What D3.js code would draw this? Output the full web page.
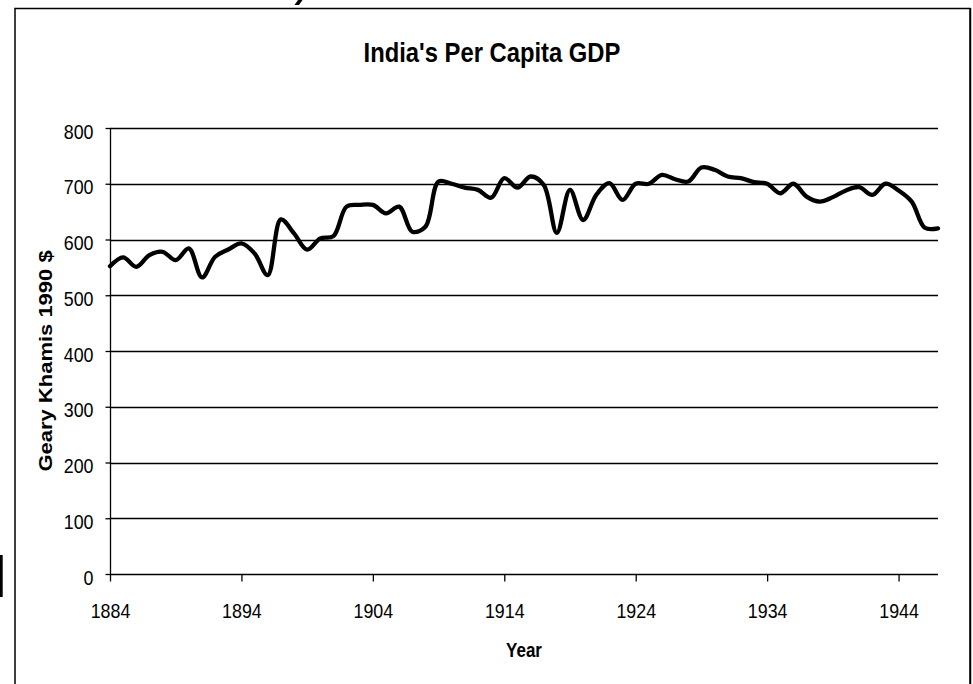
<!DOCTYPE html>
<html>
<head>
<meta charset="utf-8">
<script src="https://cdn.jsdelivr.net/npm/d3@7"></script>
<style>
  body { margin: 0; background: #fff; }
  svg { display: block; font-family: "Liberation Sans", Arial, sans-serif; }
</style>
</head>
<body>
<div id="chart"></div>
<script>
// India's per capita GDP, Geary Khamis 1990 $
const years = [1884, 1885, 1886, 1887, 1888, 1889, 1890, 1891, 1892, 1893,
  1894, 1895, 1896, 1897, 1898, 1899, 1900, 1901, 1902, 1903,
  1904, 1905, 1906, 1907, 1908, 1909, 1910, 1911, 1912, 1913,
  1914, 1915, 1916, 1917, 1918, 1919, 1920, 1921, 1922, 1923,
  1924, 1925, 1926, 1927, 1928, 1929, 1930, 1931, 1932, 1933,
  1934, 1935, 1936, 1937, 1938, 1939, 1940, 1941, 1942, 1943,
  1944, 1945, 1946, 1947]
const gdp = [552, 568, 551, 572, 578, 563, 584, 532, 569, 582,
  593, 575, 536, 636, 611, 582, 602, 606, 659, 662,
  662, 647, 659, 614, 623, 704, 700, 693, 689, 675,
  710, 693, 713, 698, 612, 689, 635, 680, 701, 671,
  700, 700, 716, 708, 704, 729, 725, 713, 710, 703,
  700, 683, 700, 677, 668, 676, 688, 694, 680, 700,
  688, 668, 621, 620]
const xTicks = [1884, 1894, 1904, 1914, 1924, 1934, 1944]
const yTicks = [0, 100, 200, 300, 400, 500, 600, 700, 800]

const width = 973
const height = 684
const margin = {top: 128, left: 110, right: 35, bottom: 110}
const squeeze = 0.85 // text in the picture is narrower than plain Arial
const font = '"Liberation Sans", Arial, sans-serif'

const svg = d3.select('#chart').append('svg')
  .attr('width', width)
  .attr('height', height)

const x = d3.scaleLinear()
  .domain([years[0], years[years.length - 1]])
  .range([margin.left, width - margin.right])
const y = d3.scaleLinear()
  .domain([0, 800])
  .range([height - margin.bottom, margin.top])

// outer frame (runs off the bottom of the page)
svg.append('rect')
  .attr('x', 15).attr('y', 8.5)
  .attr('width', 955).attr('height', 700)
  .attr('fill', 'none')
  .attr('stroke', '#000')
  .attr('stroke-width', 1.5)
svg.append('line')
  .attr('x1', 970.5).attr('x2', 970.5)
  .attr('y1', 8).attr('y2', height)
  .attr('stroke', '#000').attr('stroke-width', 1.5)

// bits of the page around the chart
svg.append('rect')
  .attr('x', 0).attr('y', 555).attr('width', 2.7).attr('height', 42)
  .attr('fill', '#000')
svg.append('path')
  .attr('d', 'M298,0 L302.5,0 L299,5 L294.5,5 Z')
  .attr('fill', '#000')

// gridlines
svg.append('g')
  .selectAll('line')
  .data(yTicks)
  .join('line')
  .attr('x1', x.range()[0])
  .attr('x2', x.range()[1])
  .attr('y1', d => Math.round(y(d)) + 0.5)
  .attr('y2', d => Math.round(y(d)) + 0.5)
  .attr('stroke', '#000')
  .attr('stroke-width', 1.3)

// y axis
const yAxis = svg.append('g')
  .attr('transform', 'translate(' + (margin.left + 0.5) + ',0)')
  .call(d3.axisLeft(y).tickValues(yTicks).tickSize(5).tickPadding(0).tickFormat(d3.format('d')))
  .attr('font-family', font)
yAxis.select('.domain').attr('stroke', '#000').attr('stroke-width', 1.3)
  .attr('d', 'M0,' + y(800) + 'V' + y(0))
yAxis.selectAll('.tick line').attr('stroke', '#000').attr('stroke-width', 1.3)
yAxis.selectAll('.tick text')
  .attr('x', null).attr('dy', null)
  .attr('text-anchor', 'end')
  .attr('font-size', 21)
  .attr('fill', '#000')
  .attr('transform', 'translate(-17,10) scale(' + squeeze + ',1)')

// x axis
const xAxis = svg.append('g')
  .attr('transform', 'translate(0,' + (Math.round(y(0)) + 0.5) + ')')
  .call(d3.axisBottom(x).tickValues(xTicks).tickSize(7).tickPadding(0).tickFormat(d3.format('d')))
  .attr('font-family', font)
xAxis.select('.domain').remove()
xAxis.selectAll('.tick line').attr('stroke', '#000').attr('stroke-width', 1.3)
xAxis.selectAll('.tick text')
  .attr('y', null).attr('dy', null)
  .attr('text-anchor', 'middle')
  .attr('font-size', 21)
  .attr('fill', '#000')
  .attr('transform', 'translate(0,43.5) scale(' + squeeze + ',1)')

// the series, smoothed like the spreadsheet line
const line = d3.line()
  .x((d, i) => x(years[i]))
  .y(d => y(d))
  .curve(d3.curveCatmullRom.alpha(0.5))

svg.append('path')
  .datum(gdp)
  .attr('d', line)
  .attr('fill', 'none')
  .attr('stroke', '#000')
  .attr('stroke-width', 4.3)
  .attr('stroke-linejoin', 'round')
  .attr('stroke-linecap', 'round')

// titles
svg.append('text')
  .attr('transform', 'translate(492,62) scale(' + squeeze + ',1)')
  .attr('text-anchor', 'middle')
  .attr('font-size', 28)
  .attr('font-weight', 'bold')
  .text("India's Per Capita GDP")

svg.append('text')
  .attr('transform', 'translate(524,657) scale(' + squeeze + ',1)')
  .attr('text-anchor', 'middle')
  .attr('font-size', 20)
  .attr('font-weight', 'bold')
  .text('Year')

svg.append('text')
  .attr('transform', 'translate(52,361) rotate(-90) scale(1,' + squeeze + ')')
  .attr('text-anchor', 'middle')
  .attr('font-size', 22)
  .attr('font-weight', 'bold')
  .text('Geary Khamis 1990 $')
</script>
</body>
</html>
